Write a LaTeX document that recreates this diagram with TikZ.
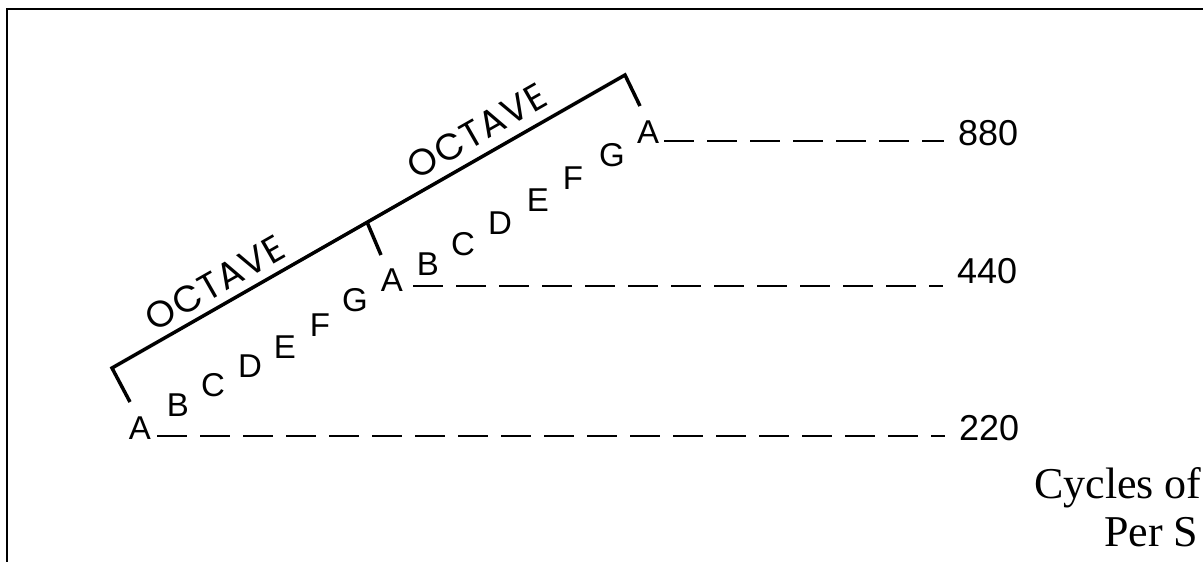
\documentclass[tikz,border=0pt]{standalone}
\usepackage{fontspec}
\setmainfont{Liberation Sans}
\newfontfamily\handfont{Liberation Serif}
\newfontfamily\octfont[LetterSpace=4]{Poppins}
\begin{document}
\begin{tikzpicture}[x=1pt,y=-1pt,
  note/.style={font=\fontsize{33}{33}\selectfont, inner sep=0pt},
  freq/.style={font=\fontsize{36}{36}\selectfont, inner sep=0pt, anchor=west},
  octlabel/.style={font=\octfont\fontsize{37}{37}\selectfont, rotate=29.7, inner sep=0pt},
  hand/.style={font=\handfont\fontsize{44}{44}\selectfont, inner sep=0pt, anchor=west},
  dashline/.style={line width=2pt, dash pattern=on 30pt off 13pt, shorten >=14pt},
  bracket/.style={line width=3.5pt, line join=miter},
  frame/.style={line width=2.5pt}]
\clip (0,0) rectangle (1203,562);
\fill[white] (0,0) rectangle (1203,562);
\draw[frame] (7,600) -- (7,9) -- (1250,9);

% notes, first octave
\node[note] (A1) at (140,428) {A};
\node[note] (B1) at (178,405) {B};
\node[note] (C1) at (213,385) {C};
\node[note] (D1) at (250,366) {D};
\node[note] (E1) at (285,347) {E};
\node[note] (F1) at (320,325) {F};
\node[note] (G1) at (355,300) {G};
% second octave
\node[note] (A2) at (392,280) {A};
\node[note] (B2) at (428,264) {B};
\node[note] (C2) at (463,244) {C};
\node[note] (D2) at (500,223) {D};
\node[note] (E2) at (538,200) {E};
\node[note] (F2) at (573,178) {F};
\node[note] (G2) at (612,155) {G};
\node[note] (A3) at (648,132) {A};

% frequencies
\node[freq] (n880) at (958,133) {880};
\node[freq] (n440) at (957,271) {440};
\node[freq] (n220) at (959,428) {220};

% dashed level lines
\coordinate (l880) at ([shift={(5,-3)}]A3.south east);
\coordinate (l440) at ([shift={(10,-6)}]A2.south east);
\coordinate (l220) at ([shift={(6,-4)}]A1.south east);
\draw[dashline] (l880) -- (l880 -| n880.west);
\draw[dashline] (l440) -- (l440 -| n440.west);
\draw[dashline] (l220) -- (l220 -| n220.west);

% octave bracket
\coordinate (bL) at (112,368);
\coordinate (bLt) at (130,402);
\coordinate (bM) at (367,222);
\coordinate (bMt) at (381,255);
\coordinate (bR) at (625,75);
\coordinate (bRt) at (640,106);
\draw[bracket] (bLt) -- (bL) -- (bR) -- (bRt);
\draw[bracket] (bM) -- (bMt);

\node[octlabel] (oct1) at (215,283) {OCTAVE};
\node[octlabel] (oct2) at (477,131) {OCTAVE};

% axis caption (cut off at the right edge)
\node[hand] (cap1) at (1034,488) {Cycles of};
\node[hand] (cap2) at (1104,532) {Per S};
\end{tikzpicture}
\end{document}
